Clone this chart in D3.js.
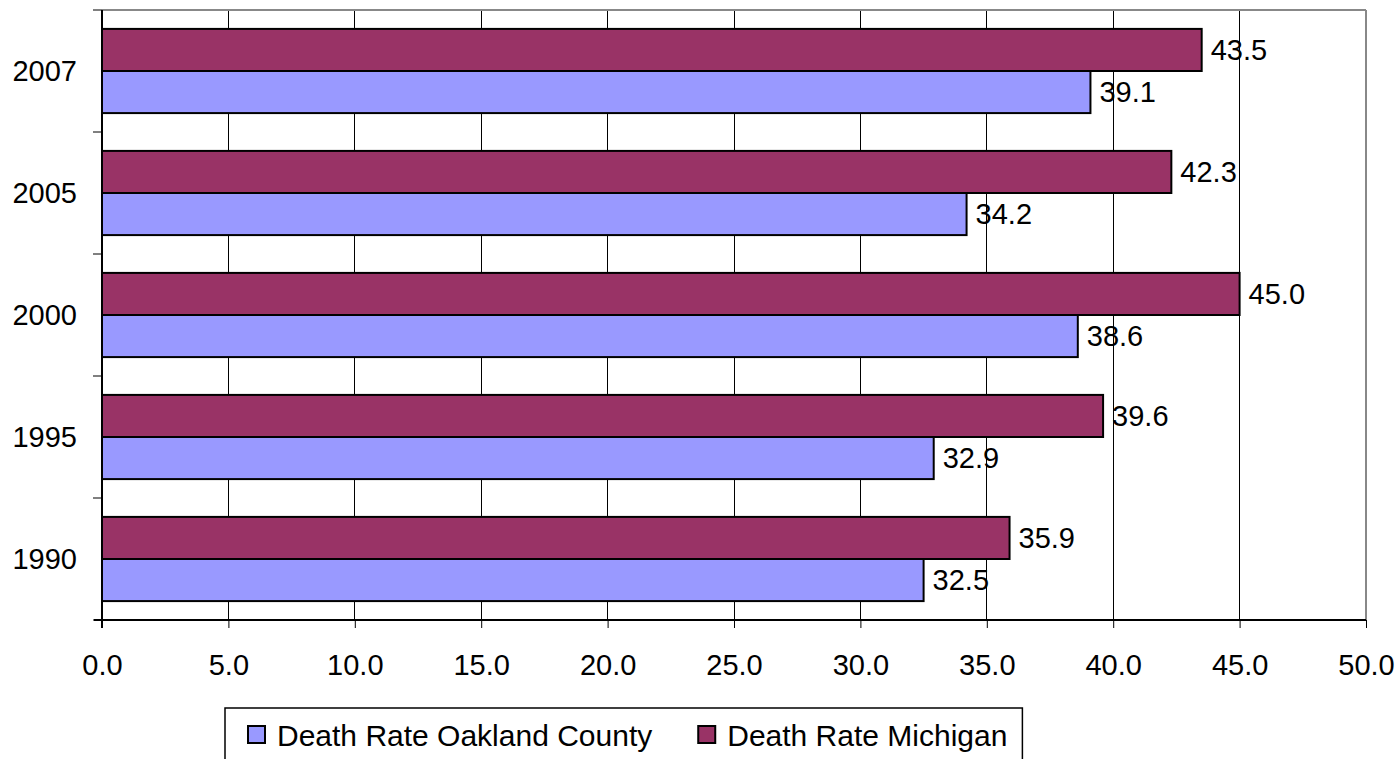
<!DOCTYPE html>
<html><head><meta charset="utf-8">
<script src="https://cdn.jsdelivr.net/npm/d3@7"></script>
<style>
html,body{margin:0;padding:0;background:#fff;}
svg{display:block;font-family:"Liberation Sans",Arial,sans-serif;}
</style></head>
<body>
<svg id="chart" width="1400" height="759"></svg>
<script>
const years = ["2007", "2005", "2000", "1995", "1990"];
const michigan = [43.5, 42.3, 45.0, 39.6, 35.9];
const oakland = [39.1, 34.2, 38.6, 32.9, 32.5];
const seriesNames = ["Death Rate Oakland County", "Death Rate Michigan"];
const seriesColors = ["#9999FF", "#993366"];
const xTicks = [0, 5, 10, 15, 20, 25, 30, 35, 40, 45, 50];

const svg = d3.select("#chart");
const m = {left: 102, right: 1366, top: 10, bottom: 620};
const x = d3.scaleLinear().domain([0, 50]).range([m.left, m.right]);
const y = d3.scaleBand().domain(years).range([m.top, m.bottom]).paddingInner(0.31).paddingOuter(0.155);
const inner = d3.scaleBand().domain(["mi", "oak"]).range([0, y.bandwidth()]);
const band = d3.scaleBand().domain(years).range([m.top, m.bottom]);

// gridlines
svg.append("g").selectAll("line").data(xTicks.slice(1, -1)).join("line")
  .attr("x1", d => x(d)).attr("x2", d => x(d)).attr("y1", m.top).attr("y2", m.bottom)
  .attr("stroke", "#000").attr("stroke-width", 1).attr("shape-rendering", "crispEdges");
// top & right border (gray)
svg.append("line").attr("x1", m.left).attr("x2", m.right).attr("y1", m.top).attr("y2", m.top)
  .attr("stroke", "#888").attr("stroke-width", 2);
svg.append("line").attr("x1", m.right).attr("x2", m.right).attr("y1", m.top).attr("y2", m.bottom)
  .attr("stroke", "#888").attr("stroke-width", 2);

// bars
const data = years.map((yr, i) => ({yr, mi: michigan[i], oak: oakland[i]}));
const g = svg.append("g");
g.selectAll("rect.mi").data(data).join("rect").attr("class", "mi")
  .attr("x", x(0)).attr("y", d => y(d.yr) + inner("mi"))
  .attr("width", d => x(d.mi) - x(0)).attr("height", inner.bandwidth())
  .attr("fill", seriesColors[1]).attr("stroke", "#000").attr("stroke-width", 2);
g.selectAll("rect.oak").data(data).join("rect").attr("class", "oak")
  .attr("x", x(0)).attr("y", d => y(d.yr) + inner("oak"))
  .attr("width", d => x(d.oak) - x(0)).attr("height", inner.bandwidth())
  .attr("fill", seriesColors[0]).attr("stroke", "#000").attr("stroke-width", 2);

// value labels
const fs = 29;
g.selectAll("text.lmi").data(data).join("text")
  .attr("x", d => x(d.mi) + 9).attr("y", d => y(d.yr) + inner("mi") + inner.bandwidth() / 2)
  .attr("dy", "0.36em").attr("font-size", fs).attr("fill", "#000").text(d => d.mi.toFixed(1));
g.selectAll("text.loak").data(data).join("text")
  .attr("x", d => x(d.oak) + 9).attr("y", d => y(d.yr) + inner("oak") + inner.bandwidth() / 2)
  .attr("dy", "0.36em").attr("font-size", fs).attr("fill", "#000").text(d => d.oak.toFixed(1));

// x axis
const xAxis = d3.axisBottom(x).tickValues(xTicks).tickFormat(d3.format(".1f")).tickSize(8).tickPadding(26);
const xg = svg.append("g").attr("transform", `translate(0,${m.bottom})`).call(xAxis);
xg.select(".domain").attr("stroke", "#000").attr("stroke-width", 2).attr("d", `M${m.left - 8},0H${m.right}`);
xg.selectAll(".tick line").attr("stroke", "#000");
xg.selectAll(".tick text").attr("font-size", fs).attr("font-family", "Liberation Sans, Arial, sans-serif").attr("fill", "#000");

// y axis
const yg = svg.append("g").attr("transform", `translate(${m.left},0)`);
yg.append("line").attr("x1", 0).attr("x2", 0).attr("y1", m.top).attr("y2", m.bottom + 8)
  .attr("stroke", "#000").attr("stroke-width", 2);
const bounds = years.map(yr => band(yr)).concat([m.bottom]);
yg.selectAll("line.tk").data(bounds).join("line").attr("class", "tk")
  .attr("x1", -9).attr("x2", 0).attr("y1", d => d).attr("y2", d => d)
  .attr("stroke", "#000").attr("stroke-width", 1);
yg.selectAll("text").data(years).join("text")
  .attr("x", -25).attr("y", d => band(d) + band.bandwidth() / 2).attr("dy", "0.36em")
  .attr("text-anchor", "end").attr("font-size", fs).attr("fill", "#000").text(d => d);

// legend
const lg = svg.append("g");
const box = lg.append("rect").attr("x", 225).attr("y", 708).attr("height", 70)
  .attr("fill", "#fff").attr("stroke", "#000").attr("stroke-width", 1.5);
let cx = 248;
const order = [0, 1];
order.forEach(i => {
  lg.append("rect").attr("x", cx).attr("y", 726).attr("width", 17).attr("height", 17)
    .attr("fill", seriesColors[i]).attr("stroke", "#000").attr("stroke-width", 2);
  const t = lg.append("text").attr("x", cx + 29).attr("y", 735).attr("dy", "0.36em")
    .attr("font-size", 30).attr("fill", "#000").text(seriesNames[i]);
  cx = cx + 29 + t.node().getComputedTextLength() + 46;
});
box.attr("width", cx - 46 + 15 - 225);
</script>
</body></html>
